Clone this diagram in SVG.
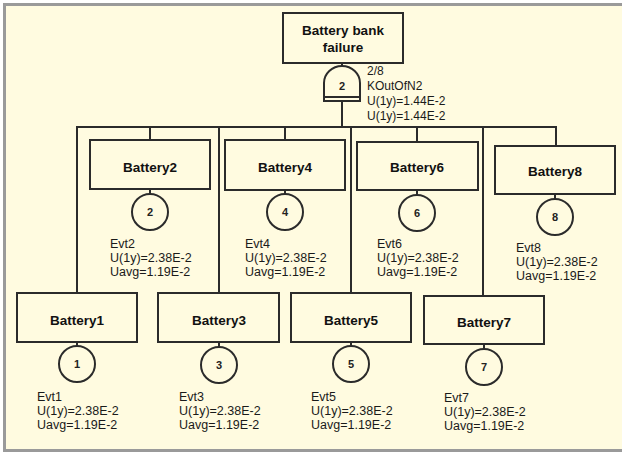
<svg xmlns="http://www.w3.org/2000/svg" width="622" height="452" viewBox="0 0 622 452">
<style>
.box{fill:none;stroke:#2b2b2b;stroke-width:2}
.ln{fill:none;stroke:#2b2b2b;stroke-width:2}
.lbl{font-family:"Liberation Sans",Arial,sans-serif;font-size:13.5px;font-weight:bold;fill:#111;text-anchor:middle}
.num{font-family:"Liberation Sans",Arial,sans-serif;font-size:11px;font-weight:bold;fill:#222;text-anchor:middle}
.inf{font-family:"Liberation Sans",Arial,sans-serif;font-size:12.5px;fill:#1a1a1a}
.gin{font-family:"Liberation Sans",Arial,sans-serif;font-size:12px;fill:#1a1a1a}
</style>
<rect x="0" y="0" width="622" height="452" fill="#ffffff"/>
<rect x="4.5" y="4.5" width="640" height="446" fill="#fffbe0" stroke="#9a9a9a" stroke-width="3"/>
<g id="connectors">
<line class="ln" x1="342" y1="63" x2="342" y2="67"/>
<line class="ln" x1="342" y1="101" x2="342" y2="127"/>
<polyline class="ln" points="77,293 77,127 556,127 556,146"/>
<line class="ln" x1="150" y1="127" x2="150" y2="140"/>
<line class="ln" x1="219" y1="127" x2="219" y2="293"/>
<line class="ln" x1="285" y1="127" x2="285" y2="140"/>
<line class="ln" x1="351" y1="127" x2="351" y2="293"/>
<line class="ln" x1="417" y1="127" x2="417" y2="142"/>
<line class="ln" x1="483" y1="127" x2="483" y2="296"/>
<line class="ln" x1="150" y1="189" x2="150" y2="194"/>
<line class="ln" x1="285" y1="190" x2="285" y2="194"/>
<line class="ln" x1="417" y1="190" x2="417" y2="195"/>
<line class="ln" x1="555" y1="194" x2="555" y2="199"/>
<line class="ln" x1="77" y1="342" x2="77" y2="346"/>
<line class="ln" x1="219" y1="342" x2="219" y2="347"/>
<line class="ln" x1="351" y1="342" x2="351" y2="346"/>
<line class="ln" x1="484" y1="344" x2="484" y2="349"/>
</g>
<g id="top">
<rect class="box" x="283" y="13" width="120" height="50"/>
<text class="lbl" x="343" y="35">Battery bank</text>
<text class="lbl" x="343" y="52">failure</text>
</g>
<g id="gate">
<path class="box" d="M324,101 L324,83 A18,17 0 0 1 360,83 L360,101 Z"/>
<line class="ln" x1="324" y1="97" x2="360" y2="97"/>
<text class="num" x="342" y="90">2</text>
<text class="gin" x="367" y="75">2/8</text>
<text class="gin" x="367" y="90">KOutOfN2</text>
<text class="gin" x="367" y="105">U(1y)=1.44E-2</text>
<text class="gin" x="367" y="120">U(1y)=1.44E-2</text>
</g>
<g id="battery2">
<rect class="box" x="90" y="140" width="120" height="49"/>
<text class="lbl" x="150" y="172">Battery2</text>
<circle class="box" cx="150" cy="212" r="18"/>
<text class="num" x="150" y="216">2</text>
<text class="inf" x="110" y="248">Evt2</text>
<text class="inf" x="110" y="262">U(1y)=2.38E-2</text>
<text class="inf" x="110" y="276">Uavg=1.19E-2</text>
</g>
<g id="battery4">
<rect class="box" x="225" y="140" width="120" height="50"/>
<text class="lbl" x="285" y="172">Battery4</text>
<circle class="box" cx="285" cy="212" r="18"/>
<text class="num" x="285" y="216">4</text>
<text class="inf" x="245" y="248">Evt4</text>
<text class="inf" x="245" y="262">U(1y)=2.38E-2</text>
<text class="inf" x="245" y="276">Uavg=1.19E-2</text>
</g>
<g id="battery6">
<rect class="box" x="357" y="142" width="121" height="48"/>
<text class="lbl" x="417" y="172">Battery6</text>
<circle class="box" cx="417" cy="213" r="18"/>
<text class="num" x="417" y="217">6</text>
<text class="inf" x="377" y="248">Evt6</text>
<text class="inf" x="377" y="262">U(1y)=2.38E-2</text>
<text class="inf" x="377" y="276">Uavg=1.19E-2</text>
</g>
<g id="battery8">
<rect class="box" x="495" y="146" width="120" height="48"/>
<text class="lbl" x="555" y="176">Battery8</text>
<circle class="box" cx="555" cy="217" r="18"/>
<text class="num" x="555" y="221">8</text>
<text class="inf" x="516" y="252">Evt8</text>
<text class="inf" x="516" y="266">U(1y)=2.38E-2</text>
<text class="inf" x="516" y="280">Uavg=1.19E-2</text>
</g>
<g id="battery1">
<rect class="box" x="17" y="293" width="120" height="49"/>
<text class="lbl" x="77" y="325">Battery1</text>
<circle class="box" cx="77" cy="364" r="18"/>
<text class="num" x="77" y="368">1</text>
<text class="inf" x="37" y="401">Evt1</text>
<text class="inf" x="37" y="415">U(1y)=2.38E-2</text>
<text class="inf" x="37" y="429">Uavg=1.19E-2</text>
</g>
<g id="battery3">
<rect class="box" x="158" y="293" width="121" height="49"/>
<text class="lbl" x="219" y="325">Battery3</text>
<circle class="box" cx="219" cy="365" r="18"/>
<text class="num" x="219" y="369">3</text>
<text class="inf" x="179" y="401">Evt3</text>
<text class="inf" x="179" y="415">U(1y)=2.38E-2</text>
<text class="inf" x="179" y="429">Uavg=1.19E-2</text>
</g>
<g id="battery5">
<rect class="box" x="291" y="293" width="120" height="49"/>
<text class="lbl" x="351" y="325">Battery5</text>
<circle class="box" cx="351" cy="364" r="18"/>
<text class="num" x="351" y="368">5</text>
<text class="inf" x="311" y="401">Evt5</text>
<text class="inf" x="311" y="415">U(1y)=2.38E-2</text>
<text class="inf" x="311" y="429">Uavg=1.19E-2</text>
</g>
<g id="battery7">
<rect class="box" x="424" y="296" width="120" height="48"/>
<text class="lbl" x="484" y="327">Battery7</text>
<circle class="box" cx="484" cy="367" r="18"/>
<text class="num" x="484" y="371">7</text>
<text class="inf" x="444" y="402">Evt7</text>
<text class="inf" x="444" y="416">U(1y)=2.38E-2</text>
<text class="inf" x="444" y="430">Uavg=1.19E-2</text>
</g>
</svg>
